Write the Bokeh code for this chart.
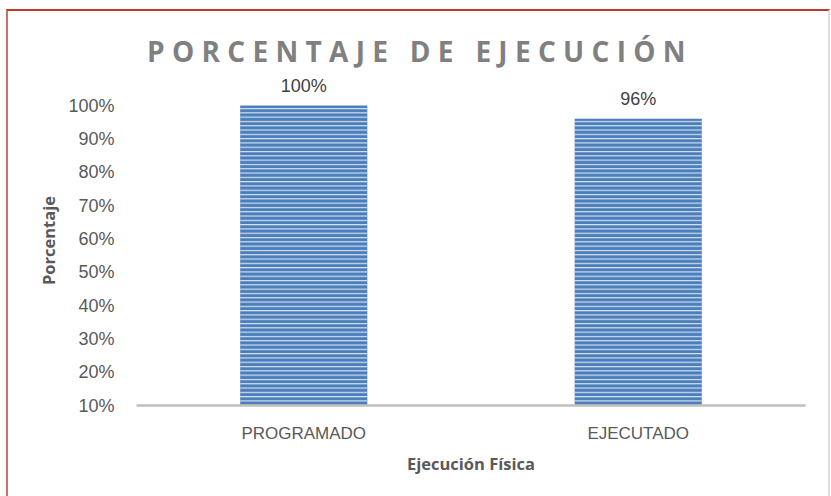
from bokeh.plotting import figure
from bokeh.models import (ColumnDataSource, FixedTicker, NumeralTickFormatter,
                          Range1d, Div)
from bokeh.layouts import column
from bokeh.core.properties import value
from bokeh.embed import file_html
from bokeh.resources import INLINE

categories = ["PROGRAMADO", "EJECUTADO"]
values = [1.00, 0.96]
value_labels = ["100%", "96%"]
y_ticks = [0.1, 0.2, 0.3, 0.4, 0.5, 0.6, 0.7, 0.8, 0.9, 1.0]
title_text = "PORCENTAJE DE EJECUCIÓN"
x_title = "Ejecución Física"
y_title = "Porcentaje"

base = 0.1
src = ColumnDataSource(dict(cat=categories, val=values, lab=value_labels,
                            base=[base] * len(categories)))

p = figure(width=820, height=425, x_range=categories,
           y_range=Range1d(base, 1.09),
           output_backend="svg", toolbar_location=None,
           min_border_left=128, min_border_right=23, min_border_top=4, min_border_bottom=91)
p.x_range.range_padding = 0
p.outline_line_color = None
p.background_fill_color = "white"
p.border_fill_color = "white"
p.xgrid.grid_line_color = None
p.ygrid.grid_line_color = None

p.vbar(x="cat", top="val", bottom="base", width=0.38, source=src,
       fill_color="#4a7ebb", line_color=None,
       hatch_pattern="horizontal_line", hatch_color="#e4ecf6", hatch_scale=4.3,
       hatch_weight=1.2, hatch_alpha=0.9)

p.text(x="cat", y="val", text="lab", source=src, text_align="center",
       text_baseline="middle", y_offset=-20, text_font=value("Liberation Sans"),
       text_font_size="18px", text_color="#404040")

# axes
p.yaxis.ticker = FixedTicker(ticks=y_ticks)
p.yaxis.formatter = NumeralTickFormatter(format="0%")
p.yaxis.axis_line_color = None
p.yaxis.major_tick_line_color = None
p.yaxis.minor_tick_line_color = None
p.yaxis.major_label_standoff = 16
p.yaxis.major_label_text_font = "Liberation Sans"
p.yaxis.major_label_text_font_size = "18px"
p.yaxis.major_label_text_color = "#595959"
p.yaxis.axis_label = y_title
p.yaxis.axis_label_text_font = "Open Sans"
p.yaxis.axis_label_text_font_style = "bold"
p.yaxis.axis_label_text_font_size = "16.5px"
p.yaxis.axis_label_text_color = "#595959"
p.yaxis.axis_label_standoff = 5

p.xaxis.axis_line_color = "#bfbfbf"
p.xaxis.axis_line_width = 2.5
p.xaxis.major_tick_line_color = None
p.xaxis.minor_tick_line_color = None
p.xaxis.major_label_standoff = 12
p.xaxis.major_label_text_font = "Liberation Sans"
p.xaxis.major_label_text_font_size = "17px"
p.xaxis.major_label_text_color = "#595959"
p.xaxis.axis_label = x_title
p.xaxis.axis_label_text_font = "Open Sans"
p.xaxis.axis_label_text_font_style = "bold"
p.xaxis.axis_label_text_font_size = "16.5px"
p.xaxis.axis_label_text_color = "#595959"
p.xaxis.axis_label_standoff = 6

# title (letter-spaced, as in the reference)
title = Div(text='<div style="width:820px; padding-top:20px; text-align:center; '
                 'font-family:\'Open Sans\'; font-weight:bold; font-size:28px; color:#808080; '
                 'letter-spacing:7.3px; text-indent:4px; white-space:nowrap;">'
                 + title_text + '</div>',
            width=820, height=60, margin=0, styles={"background-color": "white"})

layout = column(title, p, spacing=0)
layout.styles = {"margin-left": "6px", "margin-top": "9px",
                 "border-top": "2px solid #c0392b",
                 "border-left": "2px solid #c87070",
                 "border-right": "2px solid #dddddd",
                 "background-color": "white"}

open("out.html", "w").write(file_html(layout, INLINE))
